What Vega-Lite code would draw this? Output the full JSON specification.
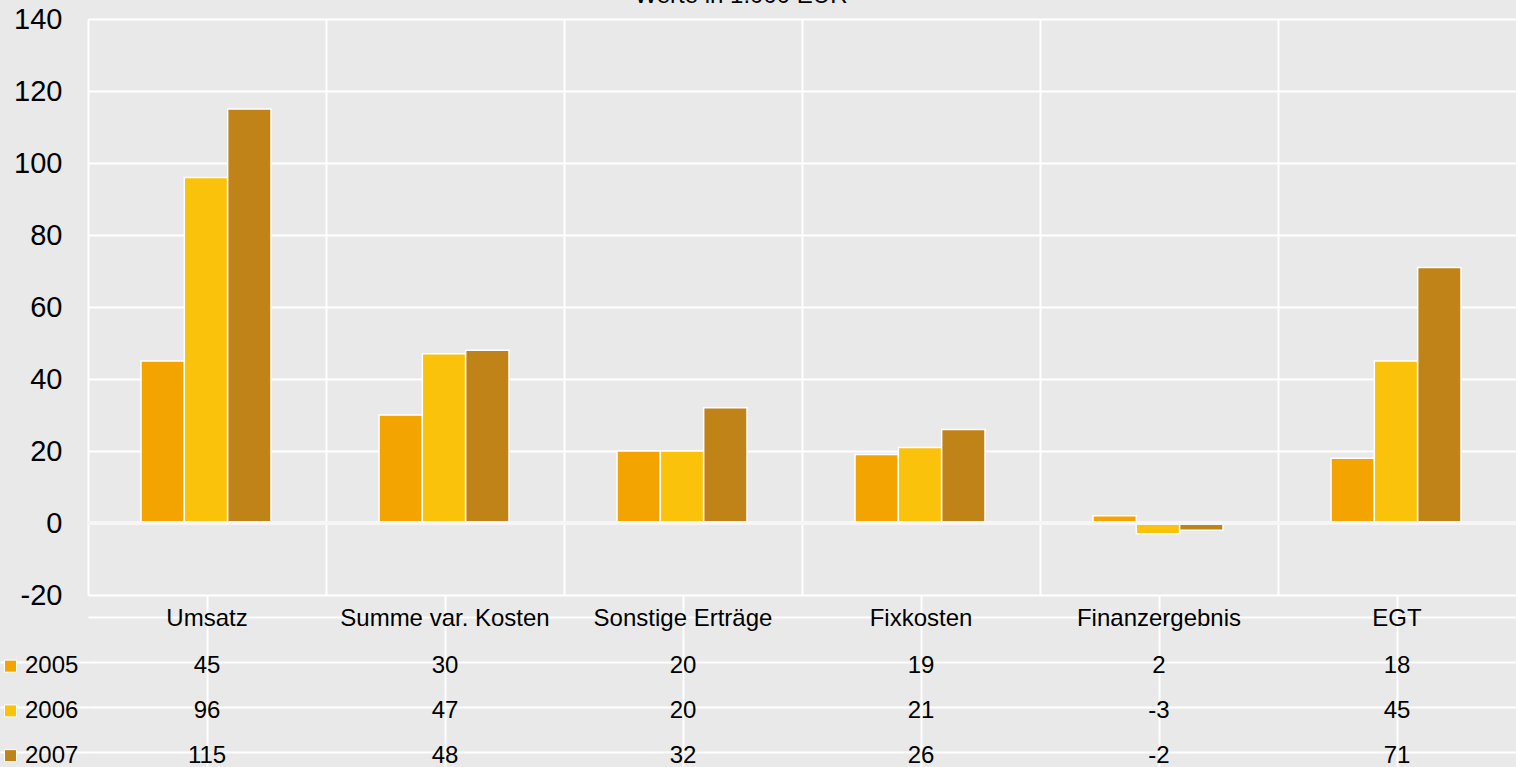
{
  "$schema": "https://vega.github.io/schema/vega-lite/v6.json",
  "background": "#e8e9e8",
  "padding": {"left": 0, "top": -16, "right": 0, "bottom": 0},
  "config": {
    "font": "Liberation Sans",
    "view": {"stroke": null},
    "axis": {"labelColor": "black", "labelFont": "Liberation Sans"},
    "text": {"font": "Liberation Sans"}
  },
  "data": {
    "values": [
      {"cat": "Umsatz", "year": "2005", "value": 45},
      {"cat": "Umsatz", "year": "2006", "value": 96},
      {"cat": "Umsatz", "year": "2007", "value": 115},
      {"cat": "Summe var. Kosten", "year": "2005", "value": 30},
      {"cat": "Summe var. Kosten", "year": "2006", "value": 47},
      {"cat": "Summe var. Kosten", "year": "2007", "value": 48},
      {"cat": "Sonstige Erträge", "year": "2005", "value": 20},
      {"cat": "Sonstige Erträge", "year": "2006", "value": 20},
      {"cat": "Sonstige Erträge", "year": "2007", "value": 32},
      {"cat": "Fixkosten", "year": "2005", "value": 19},
      {"cat": "Fixkosten", "year": "2006", "value": 21},
      {"cat": "Fixkosten", "year": "2007", "value": 26},
      {"cat": "Finanzergebnis", "year": "2005", "value": 2},
      {"cat": "Finanzergebnis", "year": "2006", "value": -3},
      {"cat": "Finanzergebnis", "year": "2007", "value": -2},
      {"cat": "EGT", "year": "2005", "value": 18},
      {"cat": "EGT", "year": "2006", "value": 45},
      {"cat": "EGT", "year": "2007", "value": 71}
    ]
  },
  "columns": 2,
  "spacing": 0,
  "bounds": "flush",
  "align": "each",
  "concat": [
    {
      "width": 88,
      "height": 576,
      "transform": [{"filter": "datum.cat == 'Umsatz' && datum.year == '2005'"}],
      "mark": {"type": "text", "text": "", "opacity": 0},
      "encoding": {}
    },
    {
      "width": 1428,
      "height": 576,
      "title": {
        "text": "Werte in 1.000 EUR",
        "fontSize": 24,
        "fontWeight": "normal",
        "color": "black",
        "anchor": "middle",
        "frame": "group",
        "offset": -3,
        "dx": -61
      },
      "layer": [
        {
          "mark": {"type": "bar", "stroke": "white", "strokeWidth": 1.5},
          "encoding": {
            "x": {
              "field": "cat",
              "type": "nominal",
              "sort": ["Umsatz", "Summe var. Kosten", "Sonstige Erträge", "Fixkosten", "Finanzergebnis", "EGT"],
              "scale": {"paddingInner": 0, "paddingOuter": 0},
              "axis": {
                "title": null,
                "labels": false,
                "ticks": false,
                "domain": false,
                "grid": true,
                "bandPosition": 0,
                "gridColor": "white",
                "gridWidth": 2,
                "gridOpacity": 1
              }
            },
            "xOffset": {
              "field": "year",
              "type": "nominal",
              "scale": {"paddingInner": 0, "paddingOuter": 0, "range": [53, 183]}
            },
            "y": {
              "field": "value",
              "type": "quantitative",
              "scale": {"domain": [-20, 140], "nice": false},
              "axis": {
                "title": null,
                "values": [-20, 0, 20, 40, 60, 80, 100, 120, 140],
                "labelExpr": "'' + datum.value",
                "labelFontSize": 29,
                "labelPadding": 26,
                "ticks": false,
                "tickSize": 0,
                "domain": false,
                "grid": true,
                "gridColor": "white",
                "gridWidth": 2,
                "gridOpacity": 1
              }
            },
            "color": {
              "field": "year",
              "type": "nominal",
              "scale": {"domain": ["2005", "2006", "2007"], "range": ["#f4a400", "#fbc20c", "#c08318"]},
              "legend": null
            }
          }
        },
        {
          "mark": {"type": "rule", "color": "#f6f6f6", "strokeWidth": 4},
          "encoding": {"y": {"datum": 0}}
        }
      ]
    },
    {
      "width": 88,
      "height": 179,
      "transform": [{"filter": "datum.cat == 'Umsatz'"}],
      "encoding": {
        "y": {
          "field": "year",
          "type": "nominal",
          "scale": {"domain": ["hdr", "2005", "2006", "2007"], "paddingInner": 0, "paddingOuter": 0},
          "axis": {
            "title": null,
            "labels": false,
            "ticks": false,
            "domain": false,
            "grid": true,
            "values": ["2005", "2006", "2007"],
            "bandPosition": 0,
            "gridColor": "white",
            "gridWidth": 2,
            "gridOpacity": 1
          }
        }
      },
      "layer": [
        {
          "mark": {"type": "point", "shape": "square", "filled": true, "size": 144, "opacity": 1, "stroke": "white", "strokeWidth": 1, "xOffset": -33.5, "yOffset": 4},
          "encoding": {
            "color": {
              "field": "year",
              "type": "nominal",
              "scale": {"domain": ["2005", "2006", "2007"], "range": ["#f4a400", "#fbc20c", "#c08318"]},
              "legend": null
            }
          }
        },
        {
          "mark": {"type": "text", "align": "left", "fontSize": 24, "color": "black", "xOffset": -19, "yOffset": 4},
          "encoding": {"text": {"field": "year"}}
        }
      ]
    },
    {
      "width": 1428,
      "height": 179,
      "encoding": {
        "x": {
          "field": "cat",
          "type": "nominal",
          "sort": ["Umsatz", "Summe var. Kosten", "Sonstige Erträge", "Fixkosten", "Finanzergebnis", "EGT"],
          "scale": {"paddingInner": 0, "paddingOuter": 0},
          "axis": {
            "title": null,
            "labels": false,
            "ticks": false,
            "domain": false,
            "grid": true,
            "bandPosition": 0,
            "gridColor": "white",
            "gridWidth": 2,
            "gridOpacity": 1
          }
        }
      },
      "layer": [
        {
          "mark": {"type": "text", "fontSize": 24, "color": "black", "yOffset": 4},
          "encoding": {
            "y": {
              "field": "year",
              "type": "nominal",
              "scale": {"domain": ["hdr", "2005", "2006", "2007"], "paddingInner": 0, "paddingOuter": 0},
              "axis": {
                "title": null,
                "labels": false,
                "ticks": false,
                "domain": false,
                "grid": true,
                "bandPosition": 0,
                "gridColor": "white",
                "gridWidth": 2,
                "gridOpacity": 1
              }
            },
            "text": {"field": "value", "type": "nominal"}
          }
        },
        {
          "transform": [{"filter": "datum.year == '2005'"}],
          "mark": {"type": "text", "fontSize": 24, "color": "black", "yOffset": 2},
          "encoding": {
            "y": {"datum": "hdr"},
            "text": {"field": "cat", "type": "nominal"}
          }
        }
      ]
    }
  ]
}
